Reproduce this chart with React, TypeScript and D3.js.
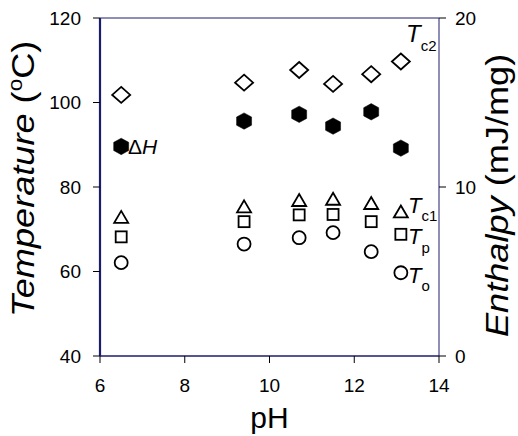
import React from "react";
import * as d3 from "d3";

const pH = [6.5, 9.4, 10.7, 11.5, 12.4, 13.1];
const Tc2 = [101.8, 104.7, 107.7, 104.4, 106.7, 109.7];
const dH = [12.4, 13.9, 14.3, 13.6, 14.45, 12.3];
const Tc1 = [72.8, 75.3, 76.8, 77.1, 76.1, 74.1];
const Tp = [68.2, 71.8, 73.4, 73.5, 71.8, 68.8];
const To = [62.1, 66.5, 68.0, 69.2, 64.7, 59.7];
const xTicks = [6, 8, 10, 12, 14];
const yLTicks = [40, 60, 80, 100, 120];
const yRTicks = [0, 10, 20];

const W = 518, H = 436;
const L = 100, R = 439, T = 18, B = 356;
const FONT = "'Liberation Sans', Arial, Helvetica, sans-serif";
const NAVY = "#1c1c6e";

export default function App() {
  const x = d3.scaleLinear().domain([6, 14]).range([L, R]);
  const yL = d3.scaleLinear().domain([40, 120]).range([B, T]);
  const yR = d3.scaleLinear().domain([0, 20]).range([B, T]);

  const diamond = (cx: number, cy: number) =>
    `M${cx},${cy - 8}L${cx + 9},${cy}L${cx},${cy + 8}L${cx - 9},${cy}Z`;
  const hexagon = (cx: number, cy: number) => {
    const rx = 7.5, ry = 8.2;
    return `M${cx},${cy - ry}L${cx + rx},${cy - ry / 2}L${cx + rx},${cy + ry / 2}L${cx},${cy + ry}L${cx - rx},${cy + ry / 2}L${cx - rx},${cy - ry / 2}Z`;
  };
  const triangle = (cx: number, cy: number) =>
    `M${cx},${cy - 6.5}L${cx + 7},${cy + 5.5}L${cx - 7},${cy + 5.5}Z`;

  const sw = 1.8;

  return (
    <svg width={W} height={H} style={{ position: "absolute", left: 0, top: 0, background: "#fff" }} fontFamily={FONT}>
      {/* axes frame */}
      <line x1={L} x2={R} y1={T} y2={T} stroke={NAVY} strokeWidth={1} />
      <line x1={L} x2={R} y1={B} y2={B} stroke={NAVY} strokeWidth={1.5} />
      <line x1={R} x2={R} y1={T} y2={B} stroke={NAVY} strokeWidth={1} />
      <line x1={L} x2={L} y1={T} y2={B} stroke={NAVY} strokeWidth={2.2} />

      {/* ticks */}
      {xTicks.map((t) => (
        <g key={"x" + t}>
          <line x1={x(t)} x2={x(t)} y1={B} y2={B + 7} stroke="#000" strokeWidth={1} />
          <text x={x(t)} y={392} textAnchor="middle" fontSize={19} fill="#000">{t}</text>
        </g>
      ))}
      {yLTicks.map((t) => (
        <g key={"yl" + t}>
          <line x1={L - 7} x2={L} y1={yL(t)} y2={yL(t)} stroke="#000" strokeWidth={1} />
          <text x={81} y={yL(t)} dy="0.35em" textAnchor="end" fontSize={19} fill="#000">{t}</text>
        </g>
      ))}
      {yRTicks.map((t) => (
        <g key={"yr" + t}>
          <line x1={R} x2={R + 7} y1={yR(t)} y2={yR(t)} stroke="#000" strokeWidth={1} />
          <text x={455} y={yR(t)} dy="0.35em" textAnchor="start" fontSize={19} fill="#000">{t}</text>
        </g>
      ))}

      {/* axis titles */}
      <text x={(L + R) / 2} y={428} textAnchor="middle" fontSize={30} fill="#000">pH</text>
      <g transform={`translate(34,317) rotate(-90) scale(1.13,1)`}>
        <text x={0} y={0} fontSize={32} fill="#000">
          <tspan fontStyle="italic">Temperature</tspan>
          <tspan> (</tspan>
          <tspan fontSize={20} dy={-12}>o</tspan>
          <tspan dy={12}>C)</tspan>
        </text>
      </g>
      <g transform={`translate(508,337) rotate(-90) scale(1.13,1)`}>
        <text x={0} y={0} fontSize={32} fill="#000">
          <tspan fontStyle="italic">Enthalpy</tspan>
          <tspan> (mJ/mg)</tspan>
        </text>
      </g>

      {/* data */}
      {pH.map((p, i) => (
        <path key={"d" + i} d={diamond(x(p), yL(Tc2[i]))} fill="#fff" stroke="#000" strokeWidth={sw} />
      ))}
      {pH.map((p, i) => (
        <path key={"h" + i} d={hexagon(x(p), yR(dH[i]))} fill="#000" stroke="#000" strokeWidth={0.5} />
      ))}
      {pH.map((p, i) => (
        <path key={"t" + i} d={triangle(x(p), yL(Tc1[i]))} fill="#fff" stroke="#000" strokeWidth={sw} />
      ))}
      {pH.map((p, i) => (
        <rect key={"s" + i} x={x(p) - 5.5} y={yL(Tp[i]) - 5.5} width={11} height={11} fill="#fff" stroke="#000" strokeWidth={sw} />
      ))}
      {pH.map((p, i) => (
        <circle key={"c" + i} cx={x(p)} cy={yL(To[i])} r={6.5} fill="#fff" stroke="#000" strokeWidth={sw} />
      ))}

      {/* labels */}
      <text x={128} y={154} fontSize={21} fill="#000">
        <tspan>Δ</tspan><tspan fontStyle="italic">H</tspan>
      </text>
      <text x={406} y={42} fontSize={24} fill="#000">
        <tspan fontStyle="italic">T</tspan>
        <tspan fontSize={15} dy={9}>c2</tspan>
      </text>
      <text x={408} y={213} fontSize={22} fill="#000">
        <tspan fontStyle="italic">T</tspan>
        <tspan fontSize={15} dy={8}>c1</tspan>
      </text>
      <text x={408} y={244} fontSize={22} fill="#000">
        <tspan fontStyle="italic">T</tspan>
        <tspan fontSize={15} dy={9}>p</tspan>
      </text>
      <text x={408} y={283} fontSize={22} fill="#000">
        <tspan fontStyle="italic">T</tspan>
        <tspan fontSize={15} dy={8}>o</tspan>
      </text>
    </svg>
  );
}
